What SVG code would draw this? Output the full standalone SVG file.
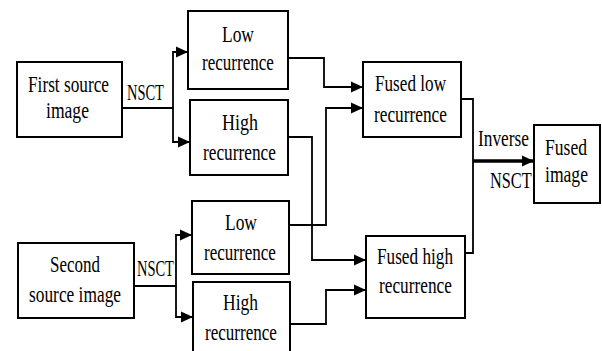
<svg xmlns="http://www.w3.org/2000/svg" width="602" height="351" viewBox="0 0 602 351">
<style>
.box{fill:#fff;stroke:#000;stroke-width:2}
.t{font-family:"Liberation Serif","Times New Roman",serif;font-size:24px;fill:#000}
.c{fill:none;stroke:#000;stroke-width:1.8}
.thick{fill:none;stroke:#000;stroke-width:3.4}
</style>
<defs>
<marker id="ah" markerUnits="userSpaceOnUse" markerWidth="14" markerHeight="14" viewBox="0 0 14 14" refX="12" refY="7" orient="auto">
<path d="M0,1.5 L12,7 L0,12.5 Z" fill="#000"/>
</marker>
</defs>
<rect width="602" height="351" fill="#fff"/>
<g id="connectors">
<path class="c" d="M122,108 H173 V52 H188" marker-end="url(#ah)"/>
<path class="c" d="M173,108 V142 H190" marker-end="url(#ah)"/>
<path class="c" d="M134,286 H176 V235 H192" marker-end="url(#ah)"/>
<path class="c" d="M176,286 V317 H193" marker-end="url(#ah)"/>
<path class="c" d="M288,58 H324 V87 H363" marker-end="url(#ah)"/>
<path class="c" d="M289,225 H326 V108 H363" marker-end="url(#ah)"/>
<path class="c" d="M288,137 H312 V260 H366" marker-end="url(#ah)"/>
<path class="c" d="M290,324 H326 V290 H366" marker-end="url(#ah)"/>
<path class="c" d="M461,99 H473 V253 H465"/>
<path class="thick" d="M473,161 H534" marker-end="url(#ah)"/>
<text class="t" transform="translate(127,100) scale(0.603,1)">NSCT</text>
<text class="t" transform="translate(137,276) scale(0.603,1)">NSCT</text>
<text class="t" transform="translate(478,146) scale(0.722,1)">Inverse</text>
<text class="t" transform="translate(490,188) scale(0.68,1)">NSCT</text>
</g>
<g id="first-source">
<rect class="box" x="17" y="62" width="105" height="75"/>
<text class="t" transform="translate(28,92) scale(0.719,1)">First source</text>
<text class="t" transform="translate(46,118) scale(0.733,1)">image</text>
</g>
<g id="low1">
<rect class="box" x="188" y="11" width="100" height="78"/>
<text class="t" transform="translate(222,42) scale(0.727,1)">Low</text>
<text class="t" transform="translate(202,70) scale(0.711,1)">recurrence</text>
</g>
<g id="high1">
<rect class="box" x="190" y="100" width="98" height="75"/>
<text class="t" transform="translate(222,130) scale(0.75,1)">High</text>
<text class="t" transform="translate(203,160) scale(0.72,1)">recurrence</text>
</g>
<g id="second-source">
<rect class="box" x="18" y="243" width="116" height="75"/>
<text class="t" transform="translate(50,272) scale(0.707,1)">Second</text>
<text class="t" transform="translate(29,302) scale(0.723,1)">source image</text>
</g>
<g id="low2">
<rect class="box" x="192" y="201" width="97" height="73"/>
<text class="t" transform="translate(225,230) scale(0.727,1)">Low</text>
<text class="t" transform="translate(204,260) scale(0.711,1)">recurrence</text>
</g>
<g id="high2">
<rect class="box" x="193" y="282" width="97" height="74"/>
<text class="t" transform="translate(223,310) scale(0.73,1)">High</text>
<text class="t" transform="translate(205,340) scale(0.711,1)">recurrence</text>
</g>
<g id="fused-low">
<rect class="box" x="363" y="62" width="98" height="75"/>
<text class="t" transform="translate(375,91) scale(0.715,1)">Fused low</text>
<text class="t" transform="translate(374,122) scale(0.72,1)">recurrence</text>
</g>
<g id="fused-high">
<rect class="box" x="366" y="236" width="99" height="82"/>
<text class="t" transform="translate(377,264) scale(0.717,1)">Fused high</text>
<text class="t" transform="translate(379,293) scale(0.72,1)">recurrence</text>
</g>
<g id="fused-image">
<rect class="box" x="534" y="125" width="66" height="78"/>
<text class="t" transform="translate(545,155) scale(0.733,1)">Fused</text>
<text class="t" transform="translate(545,182) scale(0.733,1)">image</text>
</g>
</svg>
